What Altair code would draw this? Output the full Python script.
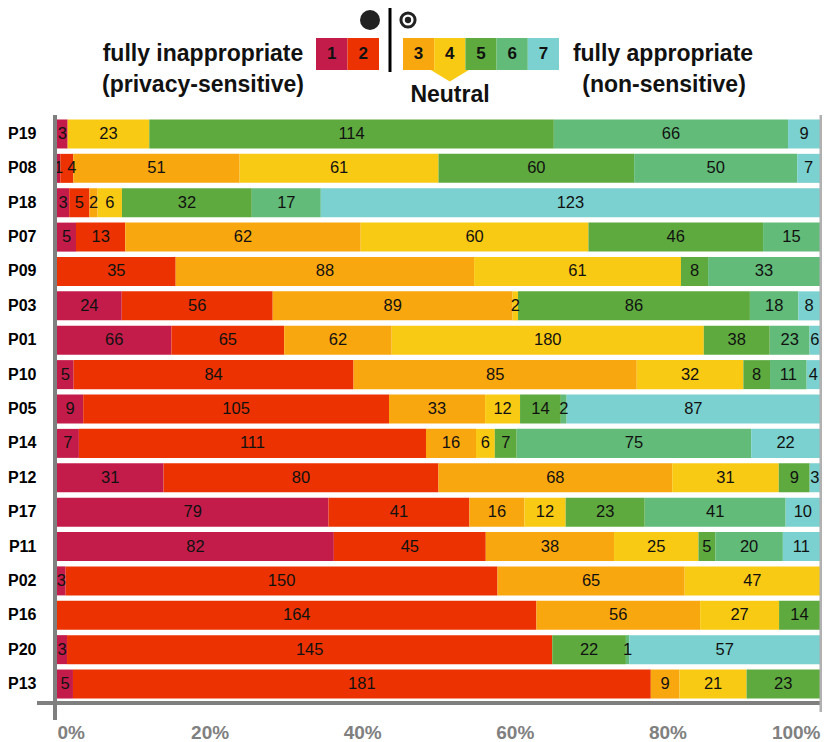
import altair as alt
import pandas as pd

participants = ["P19", "P08", "P18", "P07", "P09", "P03", "P01", "P10", "P05",
                "P14", "P12", "P17", "P11", "P02", "P16", "P20", "P13"]
levels = ["1", "2", "3", "4", "5", "6", "7"]
colors = ["#c41c4a", "#ec3200", "#f9a70f", "#f9ca14", "#5eaa3f", "#62bb78", "#7ad1cf"]

level_1 = [3, 1, 3, 5, 0, 24, 66, 5, 9, 7, 31, 79, 82, 3, 0, 3, 5]
level_2 = [0, 4, 5, 13, 35, 56, 65, 84, 105, 111, 80, 41, 45, 150, 164, 145, 181]
level_3 = [0, 51, 2, 62, 88, 89, 62, 85, 33, 16, 68, 16, 38, 65, 56, 0, 9]
level_4 = [23, 61, 6, 60, 61, 2, 180, 32, 12, 6, 31, 12, 25, 47, 27, 0, 21]
level_5 = [114, 60, 32, 46, 8, 86, 38, 8, 14, 7, 9, 23, 5, 0, 14, 22, 23]
level_6 = [66, 50, 17, 15, 33, 18, 23, 11, 2, 75, 0, 41, 20, 0, 0, 1, 0]
level_7 = [9, 7, 123, 0, 0, 8, 6, 4, 87, 22, 3, 10, 11, 0, 0, 57, 0]
series = [level_1, level_2, level_3, level_4, level_5, level_6, level_7]

rows = []
for level, values in zip(levels, series):
    for name, value in zip(participants, values):
        if value > 0:
            rows.append({"participant": name, "level": level, "count": value})
data = pd.DataFrame(rows)

font = "Liberation Sans"
color_scale = alt.Scale(domain=levels, range=colors)
x_scale = alt.Scale(domain=[0, 1], nice=False, zero=False)
y_scale = alt.Scale(domain=participants, paddingInner=0.156, paddingOuter=0.13)

base = alt.Chart(data).transform_stack(
    stack="count", groupby=["participant"], sort=[alt.SortField("level")],
    offset="normalize", as_=["x0", "x1"]
).transform_calculate(mid="(datum.x0 + datum.x1) / 2")

bars = base.mark_bar().encode(
    x=alt.X("x0:Q", scale=x_scale, title=None, axis=alt.Axis(
        values=[0, 0.2, 0.4, 0.6, 0.8, 1], format=".0%", grid=False, domain=False,
        ticks=False, labelFlush=True, labelPadding=20, labelFont=font,
        labelFontSize=19, labelFontWeight="bold", labelColor="#808080")),
    x2="x1:Q",
    y=alt.Y("participant:N", scale=y_scale, title=None, axis=alt.Axis(
        domain=False, ticks=False, labelPadding=21, labelFont=font,
        labelFontSize=16, labelFontWeight="bold", labelColor="black")),
    color=alt.Color("level:N", scale=color_scale, legend=None),
)

# the "4" of P08 sits at the right end of its thin segment in the original
is_shifted = "datum.participant == 'P08' && datum.level == '2'"
number_enc = dict(
    x=alt.X("mid:Q", scale=x_scale, axis=None),
    y=alt.Y("participant:N", scale=y_scale, title=None),
    text="count:Q",
)
numbers = base.transform_filter("!(" + is_shifted + ")").mark_text(
    font=font, fontSize=16.5, color="#111111").encode(**number_enc)
numbers_shifted = base.transform_filter(is_shifted).mark_text(
    font=font, fontSize=16.5, color="#111111", dx=5).encode(**number_enc)


def rule(x, y, x2=None, y2=None, color="#7f7f7f", width=4):
    enc = {"x": alt.value(x), "y": alt.value(y)}
    if x2 is not None:
        enc["x2"] = alt.value(x2)
    if y2 is not None:
        enc["y2"] = alt.value(y2)
    return alt.Chart(pd.DataFrame({"a": [0]})).mark_rule(
        color=color, strokeWidth=width).encode(**enc)


def note(text, x, y):
    return alt.Chart(pd.DataFrame({"t": [text]})).mark_text(
        font=font, fontSize=23, fontWeight="bold", color="#111111"
    ).encode(x=alt.value(x), y=alt.value(y), text="t:N")


def dot(x, y, size, filled, width=1.5):
    return alt.Chart(pd.DataFrame({"a": [0]})).mark_point(
        shape="circle", size=size, filled=filled, opacity=1,
        color="#222222", strokeWidth=width
    ).encode(x=alt.value(x), y=alt.value(y))


def legend_cells(values, left, right):
    cells = pd.DataFrame({"level": values})
    sx = alt.Scale(domain=values, range=[left, right], paddingInner=0, paddingOuter=0)
    rect = alt.Chart(cells).mark_bar().encode(
        x=alt.X("level:N", scale=sx, axis=None),
        y=alt.value(-77), y2=alt.value(-45),
        color=alt.Color("level:N", scale=color_scale, legend=None),
    )
    label = alt.Chart(cells).mark_text(
        font=font, fontSize=17, fontWeight="bold", color="#111111"
    ).encode(
        x=alt.X("level:N", scale=sx, axis=None), y=alt.value(-61), text="level:N"
    )
    return rect, label


low_rect, low_label = legend_cells(["1", "2"], 259, 322)
high_rect, high_label = legend_cells(["3", "4", "5", "6", "7"], 346, 502)
pointer = alt.Chart(pd.DataFrame({"level": ["4"]})).mark_point(
    shape="M-1,0L1,0L0,0.6Z", size=1444, filled=True, opacity=1, color="#f9ca14"
).encode(
    x=alt.X("level:N", axis=None, scale=alt.Scale(
        domain=["3", "4", "5", "6", "7"], range=[346, 502],
        paddingInner=0, paddingOuter=0)),
    y=alt.value(-45),
)

chart = alt.layer(
    bars, numbers, numbers_shifted,
    rule(-2, 0, y2=605),
    rule(-20, 588, x2=763),
    rule(764, 0, y2=597, color="#b0b0b0", width=3),
    rule(333, -107, y2=-43, color="black", width=3),
    dot(313, -95, 400, True),
    dot(351, -95, 200, False, 3),
    dot(351, -95, 40, True),
    pointer, low_rect, low_label, high_rect, high_label,
    note("fully inappropriate", 146, -61),
    note("(privacy-sensitive)", 146, -30),
    note("fully appropriate", 606, -61),
    note("(non-sensitive)", 607, -30),
    note("Neutral", 393, -20),
).resolve_scale(x="independent").properties(
    width=763,
    height=588,
    padding={"left": 49, "top": 107, "right": 2, "bottom": 38},
    autosize=alt.AutoSizeParams(type="none"),
    background="white",
).configure_view(
    strokeWidth=0,
)

chart.save("out.html", embed_options={"renderer": "svg", "actions": False})
